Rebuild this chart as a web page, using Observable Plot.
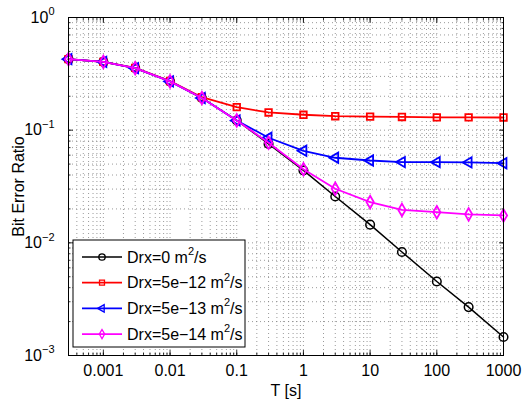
<!DOCTYPE html>
<html>
<head>
<meta charset="utf-8">
<script src="https://cdn.jsdelivr.net/npm/d3@7"></script>
<script src="https://cdn.jsdelivr.net/npm/@observablehq/plot@0.6"></script>
<style>
  html, body { margin: 0; padding: 0; background: white; }
  #chart { position: relative; width: 530px; height: 399px; }
</style>
</head>
<body>
<div id="chart"></div>
<script>
// ---- data ----
const T = [0.0003, 0.001, 0.003, 0.01, 0.03, 0.1, 0.3, 1, 3, 10, 30, 100, 300, 1000];
const berDrx0     = [0.427, 0.404, 0.355, 0.271, 0.193, 0.122, 0.0755, 0.0439, 0.0258, 0.0145, 0.0083, 0.00454, 0.00269, 0.00146];
const berDrx5e12  = [0.427, 0.404, 0.357, 0.273, 0.196, 0.160, 0.1436, 0.137, 0.133, 0.132, 0.131, 0.130, 0.130, 0.1296];
const berDrx5e13  = [0.427, 0.404, 0.355, 0.271, 0.193, 0.122, 0.0856, 0.0656, 0.0569, 0.0538, 0.0521, 0.0520, 0.0517, 0.0509];
const berDrx5e14  = [0.427, 0.404, 0.355, 0.271, 0.193, 0.122, 0.0773, 0.0450, 0.0302, 0.0230, 0.0196, 0.0187, 0.0179, 0.0175];

const seriesNames = ["Drx=0 m²/s", "Drx=5e−12 m²/s", "Drx=5e−13 m²/s", "Drx=5e−14 m²/s"];
const seriesValues = [berDrx0, berDrx5e12, berDrx5e13, berDrx5e14];
const seriesColors = ["#000000", "#ff0000", "#0000ff", "#ff00ff"];
const seriesSymbols = ["circle", "square", "triangle", "diamond"];
const seriesRotate = [0, 0, -90, 0];
const seriesR = [4.3, 3.7, 3.8, 3.8];
const seriesWidth = [1.5, 1.8, 1.8, 1.8];

const xTickValues = [0.001, 0.01, 0.1, 1, 10, 100, 1000];
const xTickLabels = ["0.001", "0.01", "0.1", "1", "10", "100", "1000"];
const yTickValues = [0.001, 0.01, 0.1, 1];
const yTickExponents = ["−3", "−2", "−1", "0"];

const xDomain = [0.0003, 1000];
const yDomain = [0.001, 1];

// ---- build ----
const xMinor = d3.scaleLog().domain(xDomain).ticks();
const yMinor = d3.scaleLog().domain(yDomain).ticks();

const gridStyle = {stroke: "#808080", strokeOpacity: 1, strokeWidth: 0.8, strokeDasharray: "1,3"};

const seriesMarks = [];
seriesValues.forEach((vals, s) => {
  const data = T.map((t, i) => ({T: t, v: vals[i]}));
  seriesMarks.push(Plot.line(data, {x: "T", y: "v", stroke: seriesColors[s], strokeWidth: seriesWidth[s]}));
  seriesMarks.push(Plot.dot(data, {x: "T", y: "v", stroke: seriesColors[s], strokeWidth: seriesWidth[s],
    symbol: seriesSymbols[s], r: seriesR[s], rotate: seriesRotate[s], fill: "none"}));
});

const tickStyle = {stroke: "black", strokeWidth: 0.8, text: null, label: null};

const chart = Plot.plot({
  width: 530,
  height: 399,
  marginLeft: 68,
  marginRight: 27,
  marginTop: 17,
  marginBottom: 44,
  style: {fontFamily: "'Liberation Sans', Arial, Helvetica, sans-serif", fontSize: "16px", background: "white", color: "black"},
  x: {type: "log", domain: xDomain},
  y: {type: "log", domain: yDomain},
  marks: [
    Plot.gridX(xMinor, gridStyle),
    Plot.gridY(yMinor, gridStyle),
    ...seriesMarks,
    Plot.frame({stroke: "black", strokeWidth: 1}),
    Plot.axisX({anchor: "bottom", ticks: xMinor, tickSize: -2.5, ...tickStyle}),
    Plot.axisX({anchor: "bottom", ticks: xTickValues, tickSize: -5, ...tickStyle}),
    Plot.axisX({anchor: "top", ticks: xMinor, tickSize: -2.5, ...tickStyle}),
    Plot.axisX({anchor: "top", ticks: xTickValues, tickSize: -5, ...tickStyle}),
    Plot.axisY({anchor: "left", ticks: yMinor, tickSize: -2.5, ...tickStyle}),
    Plot.axisY({anchor: "left", ticks: yTickValues, tickSize: -5, ...tickStyle}),
    Plot.axisY({anchor: "right", ticks: yMinor, tickSize: -2.5, ...tickStyle}),
    Plot.axisY({anchor: "right", ticks: yTickValues, tickSize: -5, ...tickStyle}),
    Plot.axisX({anchor: "bottom", ticks: xTickValues, tickSize: 0, tickPadding: 9,
      tickFormat: d => xTickLabels[xTickValues.indexOf(d)],
      label: "T [s]", labelAnchor: "center", labelArrow: "none", labelOffset: 40}),
    Plot.axisY({anchor: "left", ticks: yTickValues, tickSize: 0, tickPadding: 14,
      tickFormat: d => "10^" + yTickExponents[yTickValues.indexOf(d)],
      label: "Bit Error Ratio", labelAnchor: "center", labelArrow: "none", labelOffset: 56})
  ]
});

document.getElementById("chart").appendChild(chart);

// superscripts in y tick labels
d3.select(chart).selectAll("text").each(function() {
  const t = this.textContent;
  if (t.startsWith("10^")) {
    const exp = t.slice(3);
    const sel = d3.select(this);
    sel.text("10");
    sel.append("tspan").attr("font-size", "11px").attr("dy", "-0.65em").text(exp);
  }
});

// legend
const svg = d3.select(chart);
const lg = svg.append("g").attr("transform", "translate(73,240)");
lg.append("rect").attr("width", 172).attr("height", 107).attr("fill", "white").attr("stroke", "black").attr("stroke-width", 1);
seriesNames.forEach((name, i) => {
  const y = 17 + i * 25.7;
  const row = lg.append("g").attr("transform", `translate(0,${y})`);
  row.append("line").attr("x1", 9).attr("x2", 49).attr("y1", 0).attr("y2", 0)
    .attr("stroke", seriesColors[i]).attr("stroke-width", seriesWidth[i]);
  const symMap = {circle: d3.symbolCircle, square: d3.symbolSquare, triangle: d3.symbolTriangle, diamond: d3.symbolDiamond};
  const sz = i === 0 ? 3.2 : 2.8;
  row.append("path").attr("transform", `translate(29,0) rotate(${seriesRotate[i]})`)
    .attr("d", d3.symbol(symMap[seriesSymbols[i]], Math.PI * sz * sz)())
    .attr("fill", "none").attr("stroke", seriesColors[i]).attr("stroke-width", 1.3);
  const parts = name.split("²");
  const tx = row.append("text").attr("x", 54).attr("y", 0).attr("dy", "0.36em")
    .attr("text-anchor", "start").attr("font-size", "16px").attr("fill", "black");
  tx.append("tspan").text(parts[0]);
  tx.append("tspan").attr("font-size", "11px").attr("dy", "-0.7em").text("2");
  tx.append("tspan").attr("dy", "0.48em").text(parts[1]);
});
</script>
</body>
</html>
